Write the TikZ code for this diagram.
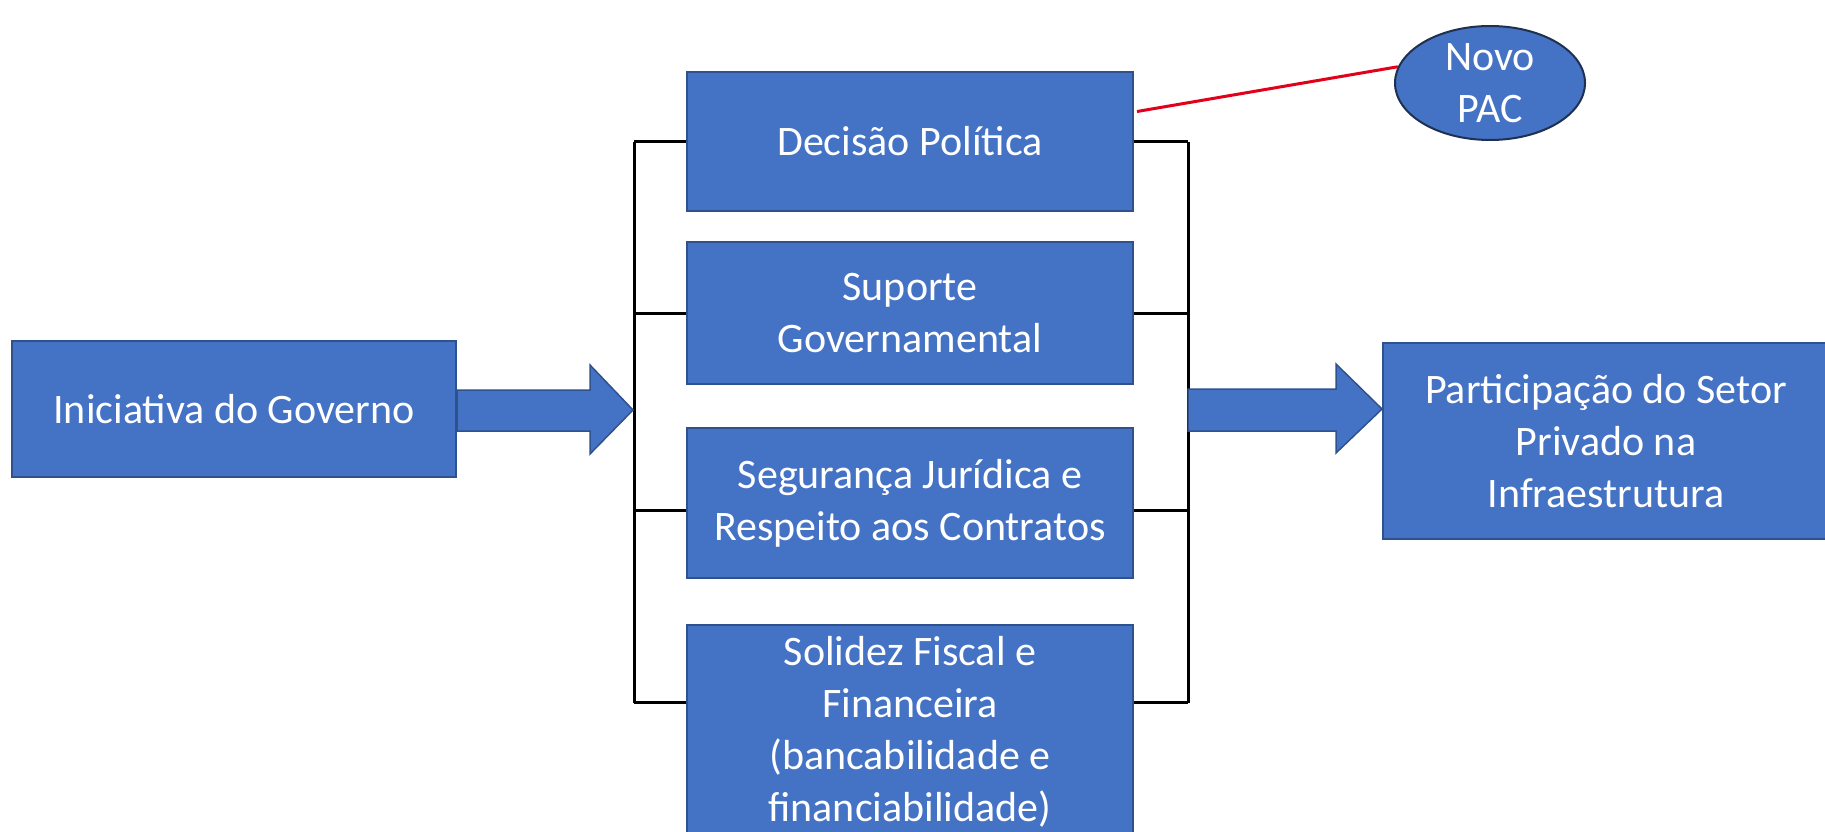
\documentclass[tikz,border=0pt]{standalone}
\usepackage{fontspec}
\setmainfont{Carlito}
\usetikzlibrary{shapes.geometric,calc}
\definecolor{boxblue}{HTML}{4472C4}
\definecolor{boxedge}{HTML}{2F528F}
\definecolor{pacedge}{HTML}{1F3050}
\definecolor{linkred}{HTML}{E3001B}
\tikzset{
  box/.style={rectangle, fill=boxblue, draw=boxedge, line width=2pt, text=white, align=center,
    font=\fontsize{42}{52}\selectfont, inner sep=0pt},
  bracketline/.style={draw=black, line width=3pt},
  blockarrow/.style={fill=boxblue, draw=boxedge, line width=1.5pt, line join=miter},
}
\begin{document}
\begin{tikzpicture}[x=1pt,y=-1pt]
\useasboundingbox (0,0) rectangle (1825,832);
\fill[white] (0,0) rectangle (1825,832);
% nodes
\node[box, minimum width=444pt, minimum height=136pt] (ini) at (234,409) {Iniciativa do Governo};
\node[box, minimum width=446pt, minimum height=139pt] (dec) at (910,141.5) {Decisão Política};
\node[box, minimum width=446pt, minimum height=142pt] (sup) at (910,313) {Suporte\\Governamental};
\node[box, minimum width=446pt, minimum height=150pt] (seg) at (910,503) {Segurança Jurídica e\\Respeito aos Contratos};
\node[box, minimum width=446pt, minimum height=214pt] (sol) at (910,732) {Solidez Fiscal e\\Financeira\\(bancabilidade e\\financiabilidade)};
\node[box, minimum width=446pt, minimum height=196pt] (par) at (1606,441) {Participação do Setor\\Privado na\\Infraestrutura};
\node[ellipse, fill=boxblue, draw=pacedge, line width=2pt, text=white, align=center,
  font=\fontsize{42}{52}\selectfont, minimum width=190pt, minimum height=114pt, inner sep=0pt] (pac) at (1490,83) {Novo\\PAC};
% bracket coordinates
\coordinate (lt) at (634,142);
\coordinate (lb) at (634,703);
\coordinate (rt) at (1188,142);
\coordinate (rb) at (1188,703);
% left bracket
\draw[bracketline] (lt) -- (lb);
\draw[bracketline] (dec.west) -- (dec.west -| lt);
\draw[bracketline] (sup.west) -- (sup.west -| lt);
\draw[bracketline] (seg.west |- 0,510) -- (lt |- 0,510);
\draw[bracketline] (sol.west |- 0,702) -- (lt |- 0,702);
% right bracket
\draw[bracketline] (rt) -- (rb);
\draw[bracketline] (dec.east) -- (dec.east -| rt);
\draw[bracketline] (sup.east) -- (sup.east -| rt);
\draw[bracketline] (seg.east |- 0,510) -- (rt |- 0,510);
\draw[bracketline] (sol.east |- 0,702) -- (rt |- 0,702);
% block arrows
\coordinate (la) at (ini.east |- 0,410);
\draw[blockarrow] (la |- 0,390) -- (590,390) -- (590,365) -- (633,410) -- (590,454) -- (590,431) -- (la |- 0,431) -- cycle;
\coordinate (ra) at (rt |- 0,410);
\draw[blockarrow] (ra |- 0,389) -- (1336,389) -- (1336,364) -- (par.west |- 0,409) -- (1336,453) -- (1336,431) -- (ra |- 0,431) -- cycle;
% red link
\draw[linkred, line width=3pt] ([xshift=3pt,yshift=30pt]dec.east) -- (pac.170);
\end{tikzpicture}
\end{document}
